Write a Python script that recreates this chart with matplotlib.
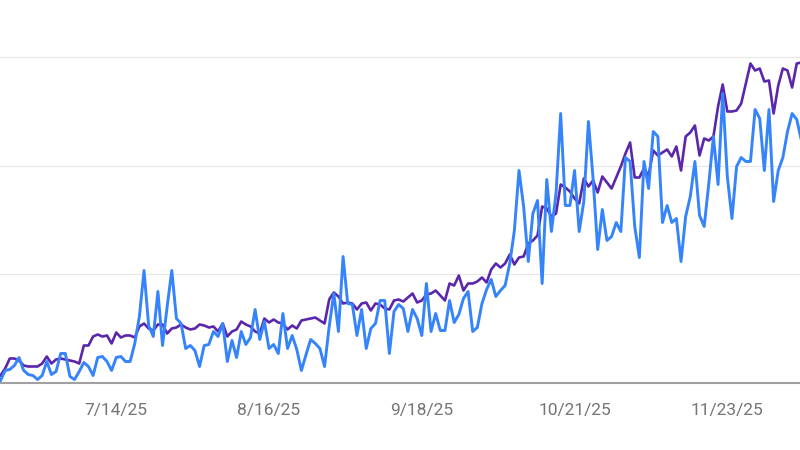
import matplotlib
matplotlib.use("Agg")
import matplotlib.pyplot as plt
import pandas as pd

START_DATE = "2025-06-19"
tick_dates = ["2025-07-14", "2025-08-16", "2025-09-18", "2025-10-21", "2025-11-23"]
tick_labels = ["7/14/25", "8/16/25", "9/18/25", "10/21/25", "11/23/25"]
grid_values = [108.5, 217, 325.5]

blue_values = [
    2, 12, 13, 17, 25, 12, 8, 7, 3, 7,
    21, 8, 11, 29, 29, 6, 3, 11, 20, 16,
    7, 25, 26, 21, 12, 25, 26, 21, 21, 39,
    66, 112, 57, 46, 91, 37, 76, 112, 64, 59,
    34, 37, 32, 16, 37, 38, 51, 46, 59, 21,
    42, 25, 51, 38, 45, 73, 43, 61, 34, 38,
    29, 69, 34, 47, 33, 12, 28, 43, 39, 34,
    16, 56, 89, 51, 126, 79, 78, 47, 73, 34,
    54, 59, 82, 82, 29, 71, 78, 74, 51, 73,
    64, 47, 99, 51, 69, 52, 52, 82, 60, 68,
    84, 91, 51, 55, 79, 93, 103, 86, 92, 97,
    119, 152, 212, 176, 121, 169, 182, 99, 203, 151,
    189, 269, 177, 177, 212, 151, 181, 261, 204, 133,
    173, 142, 146, 160, 151, 225, 221, 156, 125, 221,
    194, 251, 246, 160, 177, 160, 164, 121, 166, 186,
    221, 167, 156, 199, 246, 198, 289, 206, 164, 216,
    225, 221, 221, 273, 264, 212, 273, 181, 212, 225,
    251, 269, 263, 242,
]
purple_values = [
    7, 14, 24, 24, 22, 17, 16, 16, 16, 19,
    26, 19, 23, 24, 23, 22, 21, 19, 37, 37,
    46, 48, 46, 47, 39, 50, 45, 47, 47, 45,
    56, 59, 54, 52, 58, 58, 49, 54, 55, 58,
    55, 53, 54, 58, 57, 55, 56, 51, 59, 46,
    51, 53, 61, 58, 56, 51, 49, 64, 60, 63,
    60, 59, 53, 57, 54, 62, 63, 64, 65, 62,
    59, 83, 90, 86, 79, 80, 79, 73, 79, 80,
    72, 79, 78, 74, 73, 82, 83, 81, 85, 89,
    80, 82, 88, 89, 92, 87, 82, 99, 97, 107,
    92, 99, 99, 101, 105, 100, 113, 119, 115, 119,
    128, 118, 125, 126, 139, 142, 147, 176, 174, 166,
    169, 198, 195, 191, 184, 179, 204, 196, 202, 190,
    206, 200, 194, 205, 216, 229, 240, 205, 205, 214,
    207, 232, 227, 230, 233, 226, 236, 212, 246, 250,
    257, 227, 244, 242, 246, 276, 298, 271, 271, 272,
    279, 299, 319, 312, 314, 301, 302, 269, 297, 314,
    312, 295, 319, 320,
]

dates_b = pd.date_range(START_DATE, periods=len(blue_values), freq="D")
dates_p = pd.date_range(START_DATE, periods=len(purple_values), freq="D")

fig = plt.figure(figsize=(8, 4.5), dpi=100)
ax = fig.add_axes([0, 67.5 / 450, 1, 382.5 / 450])
ax.plot(dates_p, purple_values, color="#5a26ab", lw=1.9, zorder=3)
ax.plot(dates_b, blue_values, color="#3584fb", lw=2.1, zorder=4)

ax.set_ylim(0, 382.5)
ax.set_xlim(pd.Timestamp(START_DATE) - pd.Timedelta(days=0.11),
            pd.Timestamp(START_DATE) + pd.Timedelta(days=172.7))
ax.set_yticks(grid_values)
ax.set_yticklabels([])
ax.tick_params(axis="y", length=0)
ax.grid(axis="y", color="#e6e6e6", lw=0.8)
ax.set_axisbelow(True)
ax.set_xticks(pd.to_datetime(tick_dates))
ax.set_xticklabels(tick_labels, fontfamily="Roboto", fontsize=12.5, color="#757575")
ax.tick_params(axis="x", length=0, pad=15)
for side in ["top", "left", "right"]:
    ax.spines[side].set_visible(False)
ax.spines["bottom"].set_color("#a0a0a0")
ax.spines["bottom"].set_linewidth(1.5)

fig.savefig("out.png", dpi=100, facecolor="white")
